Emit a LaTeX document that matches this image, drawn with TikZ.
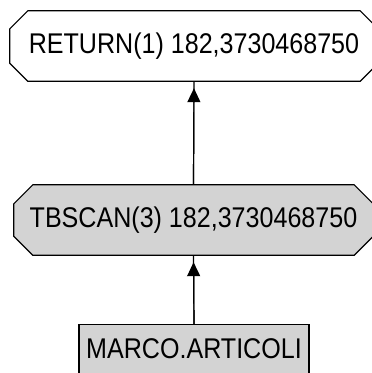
\documentclass[tikz,border=0pt]{standalone}
\usepackage{fontspec}
\setmainfont{Liberation Sans}[FakeStretch=0.88]
\usetikzlibrary{arrows.meta,backgrounds}
\definecolor{opgray}{RGB}{211,211,211}

\begin{document}
\begin{tikzpicture}[x=1pt,y=-1pt,>={Triangle[width=13pt,length=14pt]},
	every node/.style={font=\fontsize{28.5}{32}\selectfont,inner sep=0pt}]
		\tikzstyle{opnode}=[rectangle,minimum height=70pt];
		\tikzstyle{edge}=[line width=1.2pt];
		\tikzstyle{tabnode}=[draw,edge,fill=opgray,rectangle,minimum width=230pt,text height=34pt,text depth=32pt,anchor=north];
		\useasboundingbox (0,0) rectangle (372,373);
		
		\node[opnode,minimum width=368pt] (ret) at (194,46) {RETURN(1) 182,3730468750};
		\node[opnode,minimum width=359pt] (tbscan) at (193.5,220) {TBSCAN(3) 182,3730468750};
		\node[tabnode] (tab) at (194,324) {MARCO.ARTICOLI};
		
		% octagon outlines behind the operator texts
		\begin{scope}[on background layer]
			\foreach \n/\c/\f in {ret/18/white,tbscan/19/opgray}
				\draw[edge,fill=\f] ([xshift=\c pt]\n.north west) -- ([xshift=-\c pt]\n.north east) -- ([yshift=-\c pt]\n.north east) -- ([yshift=\c pt]\n.south east) -- ([xshift=-\c pt]\n.south east) -- ([xshift=\c pt]\n.south west) -- ([yshift=\c pt]\n.south west) -- ([yshift=-\c pt]\n.north west) -- cycle;
		\end{scope}
		
		\draw[edge] (tbscan.north) -- (ret.south);
		\draw[edge,->,shorten >=7pt] (tbscan.north) -- (ret.south);
		\draw[edge] (tab.north) -- (tbscan.south);
		\draw[edge,->,shorten >=7pt] (tab.north) -- (tbscan.south);
	\end{tikzpicture}
\end{document}
